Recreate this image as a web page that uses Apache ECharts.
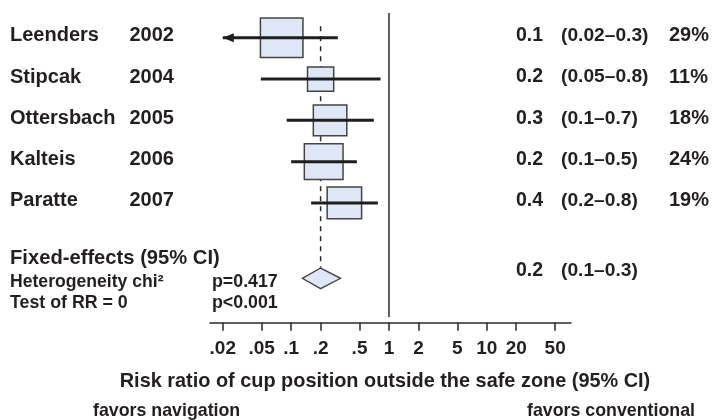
<!DOCTYPE html>
<html>
<head>
<meta charset="utf-8">
<script src="https://cdn.jsdelivr.net/npm/echarts@6/dist/echarts.min.js"></script>
<style>
  html, body { margin: 0; padding: 0; background: #fff; }
  #chart { width: 713px; height: 420px; }
</style>
</head>
<body>
<div id="chart"></div>
<script>
// ---- data ----
const studies = ['Leenders', 'Stipcak', 'Ottersbach', 'Kalteis', 'Paratte'];
const years = ['2002', '2004', '2005', '2006', '2007'];
const estimates = [0.08, 0.2, 0.25, 0.215, 0.35];
const ciLow = [0.02, 0.049, 0.09, 0.10, 0.16];
const ciHigh = [0.30, 0.82, 0.70, 0.47, 0.77];
const weights = [29, 11, 18, 24, 19];
const estimateLabels = ['0.1', '0.2', '0.3', '0.2', '0.4'];
const ciLabels = ['(0.02–0.3)', '(0.05–0.8)', '(0.1–0.7)', '(0.1–0.5)', '(0.2–0.8)'];
const weightLabels = ['29%', '11%', '18%', '24%', '19%'];
const truncatedLow = [true, false, false, false, false];

const pooledEstimate = 0.2;
const pooledLow = 0.13;
const pooledHigh = 0.32;
const pooledLabel = '0.2';
const pooledCiLabel = '(0.1–0.3)';
const heterogeneityP = 'p=0.417';
const testP = 'p<0.001';

const tickValues = [0.02, 0.05, 0.1, 0.2, 0.5, 1, 2, 5, 10, 20, 50];
const tickLabels = ['.02', '.05', '.1', '.2', '.5', '1', '2', '5', '10', '20', '50'];

// ---- helpers ----
const L = v => Math.log10(v);
const FONT = '"Liberation Sans", Arial, sans-serif';
const TXT = '#231f20';
const tickPos = tickValues.map(L);
const labelMap = {};
tickPos.forEach((p, i) => { labelMap[p.toFixed(6)] = tickLabels[i]; });

const studyData = studies.map((s, i) => [L(estimates[i]), i + 1, L(ciLow[i]), L(ciHigh[i]), weights[i], truncatedLow[i] ? 1 : 0]);

const chart = echarts.init(document.getElementById('chart'), null, { renderer: 'canvas' });

function rowText(api, row, items) {
  const y = api.coord([0, row])[1];
  return items.map(it => ({
    type: 'text',
    style: {
      text: it.t, x: it.x, y: y + (it.dy || 0),
      textAlign: it.align || 'left', textVerticalAlign: 'middle',
      font: (it.w || 'bold') + ' ' + (it.s || 19.5) + 'px ' + FONT,
      fill: TXT
    }
  }));
}

const option = {
  animation: false,
  grid: { left: 210, right: 142, top: 13, bottom: 97.3 },
  xAxis: {
    type: 'value',
    min: L(0.0148), max: L(72.6),
    splitLine: { show: false },
    axisLine: { show: true, lineStyle: { color: '#2a2a2a', width: 1.5 } },
    axisTick: { show: true, customValues: tickPos, length: 8, lineStyle: { color: '#2a2a2a', width: 1.5 } },
    axisLabel: {
      show: true, customValues: tickPos, margin: 17,
      color: TXT, fontFamily: FONT, fontWeight: 'bold', fontSize: 19,
      formatter: v => labelMap[Number(v).toFixed(6)] || ''
    }
  },
  yAxis: { type: 'value', inverse: true, min: 0.4, max: 7.9, show: false },
  series: [
    {
      type: 'line', z: 1, symbol: 'none', silent: true,
      data: [[0, 0.4], [0, 7.76]],
      lineStyle: { color: '#2a2a2a', width: 1.5 }
    },
    {
      type: 'line', z: 1, symbol: 'none', silent: true,
      data: [[L(pooledEstimate), 0.72], [L(pooledEstimate), 6.57]],
      lineStyle: { color: '#2a2a2a', width: 1.5, type: [5, 5] }
    },
    {
      type: 'custom', z: 3, silent: true,
      data: studyData,
      renderItem: (params, api) => {
        const c = api.coord([api.value(0), api.value(1)]);
        const lo = api.coord([api.value(2), api.value(1)]);
        const hi = api.coord([api.value(3), api.value(1)]);
        const w = api.value(4);
        const bw = 7.9 * Math.sqrt(w), bh = 7.3 * Math.sqrt(w);
        const children = [
          { type: 'rect', shape: { x: c[0] - bw / 2, y: c[1] - bh / 2, width: bw, height: bh },
            style: { fill: '#dfe6f5', stroke: '#444', lineWidth: 1.5 } },
          { type: 'line', shape: { x1: lo[0], y1: lo[1], x2: hi[0], y2: hi[1] },
            style: { stroke: '#1e1e1e', lineWidth: 3 } }
        ];
        if (api.value(5)) {
          children.push({ type: 'polygon', shape: { points: [[lo[0], lo[1]], [lo[0] + 11, lo[1] - 4.5], [lo[0] + 11, lo[1] + 4.5]] },
            style: { fill: '#1e1e1e' } });
        }
        return { type: 'group', children };
      }
    },
    {
      type: 'custom', z: 3, silent: true,
      data: [[L(pooledEstimate), 6.826, L(pooledLow), L(pooledHigh)]],
      renderItem: (params, api) => {
        const c = api.coord([api.value(0), api.value(1)]);
        const lo = api.coord([api.value(2), api.value(1)]);
        const hi = api.coord([api.value(3), api.value(1)]);
        const h = 10.3;
        return { type: 'polygon', shape: { points: [[lo[0], c[1]], [c[0], c[1] - h], [hi[0], c[1]], [c[0], c[1] + h]] },
          style: { fill: '#dfe6f5', stroke: '#444', lineWidth: 1.3 } };
      }
    },
    {
      type: 'custom', z: 4, silent: true, clip: false,
      data: studies.map((s, i) => [0, i + 1]),
      renderItem: (params, api) => {
        const i = params.dataIndex;
        return { type: 'group', children: rowText(api, i + 1, [
          { t: studies[i], x: 10, dy: -2, s: 20 },
          { t: years[i], x: 129.5, dy: -2, s: 20 },
          { t: estimateLabels[i], x: 516, dy: -2 },
          { t: ciLabels[i], x: 561, dy: -2, s: 19.2 },
          { t: weightLabels[i], x: 669, dy: -2, s: 20 }
        ]) };
      }
    },
    {
      type: 'custom', z: 4, silent: true, clip: false,
      data: [[0, 6]],
      renderItem: (params, api) => ({ type: 'group', children: [].concat(
        rowText(api, 6.334, [{ t: 'Fixed-effects (95% CI)', x: 10, s: 20.2 }]),
        rowText(api, 6.907, [{ t: 'Heterogeneity chi²', x: 10, s: 17.6 }, { t: heterogeneityP, x: 212, s: 17.8 }]),
        rowText(api, 7.42, [{ t: 'Test of RR = 0', x: 10, s: 17.8 }, { t: testP, x: 212, s: 17.8 }]),
        rowText(api, 6.64, [{ t: pooledLabel, x: 516 }, { t: pooledCiLabel, x: 561, s: 19.2 }])
      ) })
    }
  ],
  graphic: [
    { type: 'text', style: { text: 'Risk ratio of cup position outside the safe zone (95% CI)', x: 385, y: 382,
        textAlign: 'center', textVerticalAlign: 'middle', font: 'bold 19.9px ' + FONT, fill: TXT } },
    { type: 'text', style: { text: 'favors navigation', x: 93, y: 411, textVerticalAlign: 'middle',
        font: 'bold 17.8px ' + FONT, fill: TXT } },
    { type: 'text', style: { text: 'favors conventional', x: 695, y: 411, textAlign: 'right', textVerticalAlign: 'middle',
        font: 'bold 17.8px ' + FONT, fill: TXT } }
  ]
};
chart.setOption(option);
</script>
</body>
</html>
